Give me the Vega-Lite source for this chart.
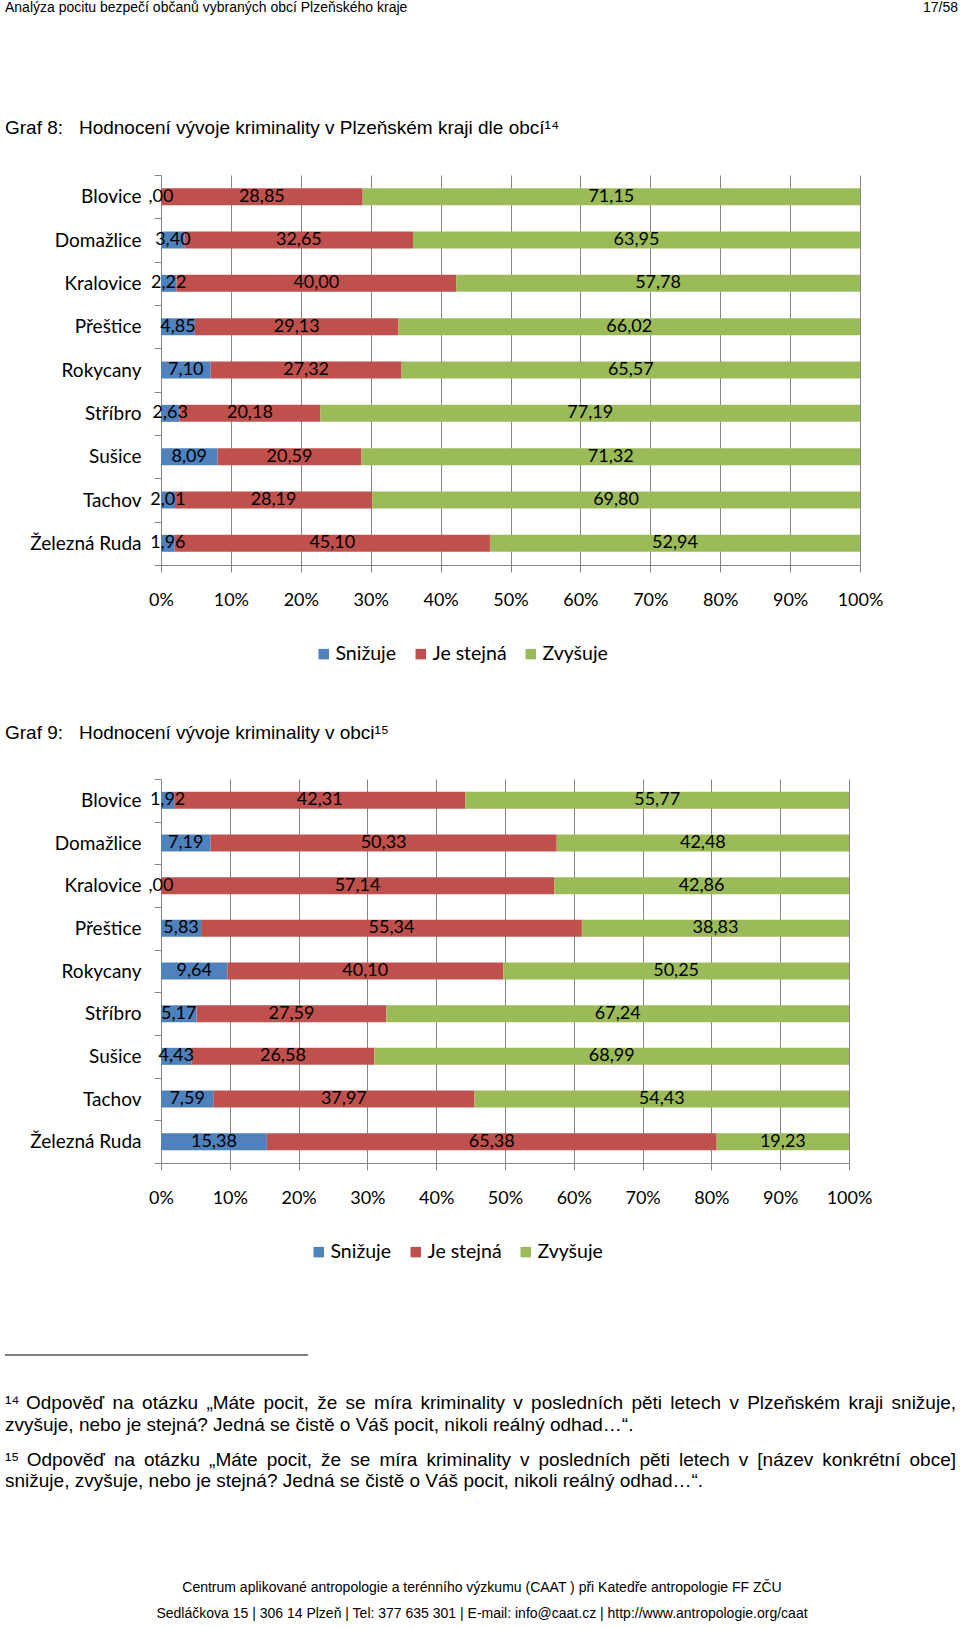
{
  "$schema": "https://vega.github.io/schema/vega-lite/v6.json",
  "padding": {"left": 4, "top": 0, "right": 0, "bottom": 0},
  "autosize": {"type": "pad"},
  "background": "white",
  "config": {
    "view": {"stroke": null},
    "text": {"font": "Liberation Sans", "color": "#000000", "baseline": "middle", "fontSize": 19, "align": "left"},
    "axisX": {"grid": true, "gridColor": "#868686", "gridWidth": 1, "domainColor": "#868686", "domainWidth": 1, "tickColor": "#868686", "tickWidth": 1, "tickSize": 7, "labelFont": "Lato", "labelFontSize": 18, "labelColor": "#000000", "labelPadding": 28, "labelBaseline": "middle", "labelFlush": false, "labelOverlap": false},
    "axisY": {"grid": false, "domainColor": "#868686", "domainWidth": 1, "tickColor": "#868686", "tickWidth": 1, "tickSize": 7, "labelFont": "Lato", "labelFontSize": 19, "labelColor": "#000000", "labelPadding": 13},
    "legend": {"orient": "none", "direction": "horizontal", "symbolType": "square", "symbolSize": 110, "symbolStrokeWidth": 0, "labelFont": "Lato", "labelFontSize": 19.5, "labelColor": "#000000", "labelOffset": 2, "columnPadding": 14, "padding": 0}
  },
  "datasets": {
    "graf8": [
      {"obec": "Blovice", "odpoved": "Snižuje", "pct": 0.00},
      {"obec": "Blovice", "odpoved": "Je stejná", "pct": 28.85},
      {"obec": "Blovice", "odpoved": "Zvyšuje", "pct": 71.15},
      {"obec": "Domažlice", "odpoved": "Snižuje", "pct": 3.40},
      {"obec": "Domažlice", "odpoved": "Je stejná", "pct": 32.65},
      {"obec": "Domažlice", "odpoved": "Zvyšuje", "pct": 63.95},
      {"obec": "Kralovice", "odpoved": "Snižuje", "pct": 2.22},
      {"obec": "Kralovice", "odpoved": "Je stejná", "pct": 40.00},
      {"obec": "Kralovice", "odpoved": "Zvyšuje", "pct": 57.78},
      {"obec": "Přeštice", "odpoved": "Snižuje", "pct": 4.85},
      {"obec": "Přeštice", "odpoved": "Je stejná", "pct": 29.13},
      {"obec": "Přeštice", "odpoved": "Zvyšuje", "pct": 66.02},
      {"obec": "Rokycany", "odpoved": "Snižuje", "pct": 7.10},
      {"obec": "Rokycany", "odpoved": "Je stejná", "pct": 27.32},
      {"obec": "Rokycany", "odpoved": "Zvyšuje", "pct": 65.57},
      {"obec": "Stříbro", "odpoved": "Snižuje", "pct": 2.63},
      {"obec": "Stříbro", "odpoved": "Je stejná", "pct": 20.18},
      {"obec": "Stříbro", "odpoved": "Zvyšuje", "pct": 77.19},
      {"obec": "Sušice", "odpoved": "Snižuje", "pct": 8.09},
      {"obec": "Sušice", "odpoved": "Je stejná", "pct": 20.59},
      {"obec": "Sušice", "odpoved": "Zvyšuje", "pct": 71.32},
      {"obec": "Tachov", "odpoved": "Snižuje", "pct": 2.01},
      {"obec": "Tachov", "odpoved": "Je stejná", "pct": 28.19},
      {"obec": "Tachov", "odpoved": "Zvyšuje", "pct": 69.80},
      {"obec": "Železná Ruda", "odpoved": "Snižuje", "pct": 1.96},
      {"obec": "Železná Ruda", "odpoved": "Je stejná", "pct": 45.10},
      {"obec": "Železná Ruda", "odpoved": "Zvyšuje", "pct": 52.94}
    ],
    "graf9": [
      {"obec": "Blovice", "odpoved": "Snižuje", "pct": 1.92},
      {"obec": "Blovice", "odpoved": "Je stejná", "pct": 42.31},
      {"obec": "Blovice", "odpoved": "Zvyšuje", "pct": 55.77},
      {"obec": "Domažlice", "odpoved": "Snižuje", "pct": 7.19},
      {"obec": "Domažlice", "odpoved": "Je stejná", "pct": 50.33},
      {"obec": "Domažlice", "odpoved": "Zvyšuje", "pct": 42.48},
      {"obec": "Kralovice", "odpoved": "Snižuje", "pct": 0.00},
      {"obec": "Kralovice", "odpoved": "Je stejná", "pct": 57.14},
      {"obec": "Kralovice", "odpoved": "Zvyšuje", "pct": 42.86},
      {"obec": "Přeštice", "odpoved": "Snižuje", "pct": 5.83},
      {"obec": "Přeštice", "odpoved": "Je stejná", "pct": 55.34},
      {"obec": "Přeštice", "odpoved": "Zvyšuje", "pct": 38.83},
      {"obec": "Rokycany", "odpoved": "Snižuje", "pct": 9.64},
      {"obec": "Rokycany", "odpoved": "Je stejná", "pct": 40.10},
      {"obec": "Rokycany", "odpoved": "Zvyšuje", "pct": 50.25},
      {"obec": "Stříbro", "odpoved": "Snižuje", "pct": 5.17},
      {"obec": "Stříbro", "odpoved": "Je stejná", "pct": 27.59},
      {"obec": "Stříbro", "odpoved": "Zvyšuje", "pct": 67.24},
      {"obec": "Sušice", "odpoved": "Snižuje", "pct": 4.43},
      {"obec": "Sušice", "odpoved": "Je stejná", "pct": 26.58},
      {"obec": "Sušice", "odpoved": "Zvyšuje", "pct": 68.99},
      {"obec": "Tachov", "odpoved": "Snižuje", "pct": 7.59},
      {"obec": "Tachov", "odpoved": "Je stejná", "pct": 37.97},
      {"obec": "Tachov", "odpoved": "Zvyšuje", "pct": 54.43},
      {"obec": "Železná Ruda", "odpoved": "Snižuje", "pct": 15.38},
      {"obec": "Železná Ruda", "odpoved": "Je stejná", "pct": 65.38},
      {"obec": "Železná Ruda", "odpoved": "Zvyšuje", "pct": 19.23}
    ]
  },
  "columns": 1,
  "spacing": 0,
  "bounds": "flush",
  "resolve": {"scale": {"color": "independent", "x": "independent", "y": "independent"}, "legend": {"color": "independent"}},
  "concat": [
    {
      "width": 797,
      "height": 175,
      "layer": [
        {"data": {"values": [{"text": "Analýza pocitu bezpečí občanů vybraných obcí Plzeňského kraje"}]}, "mark": {"type": "text", "x": -156, "y": 8, "fontSize": 14}, "encoding": {"text": {"field": "text"}}},
        {"data": {"values": [{"text": "17/58"}]}, "mark": {"type": "text", "x": "width", "y": 8, "align": "right", "fontSize": 14}, "encoding": {"text": {"field": "text"}}},
        {"data": {"values": [{"text": "Graf 8:\u00a0\u00a0\u00a0Hodnocení vývoje kriminality v Plzeňském kraji dle obcí¹⁴"}]}, "mark": {"type": "text", "x": -156, "y": 128}, "encoding": {"text": {"field": "text"}}}
      ]
    },
    {
      "width": 699,
      "height": 390,
      "data": {"name": "graf8"},
      "transform": [
        {"calculate": "indexof(['Snižuje','Je stejná','Zvyšuje'], datum.odpoved)", "as": "poradi"},
        {"stack": "pct", "groupby": ["obec"], "sort": [{"field": "poradi", "order": "ascending"}], "offset": "normalize", "as": ["x0", "x1"]},
        {"calculate": "(datum.x0 + datum.x1) / 2", "as": "xm"},
        {"calculate": "datum.pct == 0 ? ',00' : replace(format(datum.pct, '.2f'), '.', ',')", "as": "popisek"}
      ],
      "encoding": {
        "y": {"field": "obec", "type": "nominal", "sort": ["Blovice", "Domažlice", "Kralovice", "Přeštice", "Rokycany", "Stříbro", "Sušice", "Tachov", "Železná Ruda"], "scale": {"paddingInner": 0, "paddingOuter": 0}, "axis": {"title": null, "tickBand": "extent"}}
      },
      "layer": [
        {
          "mark": {"type": "bar", "size": 17},
          "encoding": {
            "x": {"field": "x0", "type": "quantitative", "scale": {"domain": [0, 1], "nice": false}, "axis": {"title": null, "values": [0, 0.1, 0.2, 0.3, 0.4, 0.5, 0.6, 0.7, 0.8, 0.9, 1], "format": ".0%"}},
            "x2": {"field": "x1"},
            "color": {"field": "odpoved", "type": "nominal", "scale": {"domain": ["Snižuje", "Je stejná", "Zvyšuje"], "range": ["#4F81BD", "#C0504D", "#9BBB59"]}, "legend": {"title": null, "legendX": 153, "legendY": 469}}
          }
        },
        {
          "mark": {"type": "text", "font": "Lato", "fontSize": 18, "align": "center"},
          "encoding": {
            "x": {"field": "xm", "type": "quantitative", "scale": {"domain": [0, 1], "nice": false}, "axis": {"title": null, "values": [0, 0.1, 0.2, 0.3, 0.4, 0.5, 0.6, 0.7, 0.8, 0.9, 1], "format": ".0%"}},
            "text": {"field": "popisek"}
          }
        }
      ]
    },
    {
      "width": 699,
      "height": 214,
      "layer": [
        {"data": {"values": [{"text": "Graf 9:\u00a0\u00a0\u00a0Hodnocení vývoje kriminality v obci¹⁵"}]}, "mark": {"type": "text", "x": -156, "y": 168}, "encoding": {"text": {"field": "text"}}}
      ]
    },
    {
      "width": 688,
      "height": 384,
      "data": {"name": "graf9"},
      "transform": [
        {"calculate": "indexof(['Snižuje','Je stejná','Zvyšuje'], datum.odpoved)", "as": "poradi"},
        {"stack": "pct", "groupby": ["obec"], "sort": [{"field": "poradi", "order": "ascending"}], "offset": "normalize", "as": ["x0", "x1"]},
        {"calculate": "(datum.x0 + datum.x1) / 2", "as": "xm"},
        {"calculate": "datum.pct == 0 ? ',00' : replace(format(datum.pct, '.2f'), '.', ',')", "as": "popisek"}
      ],
      "encoding": {
        "y": {"field": "obec", "type": "nominal", "sort": ["Blovice", "Domažlice", "Kralovice", "Přeštice", "Rokycany", "Stříbro", "Sušice", "Tachov", "Železná Ruda"], "scale": {"paddingInner": 0, "paddingOuter": 0}, "axis": {"title": null, "tickBand": "extent"}}
      },
      "layer": [
        {
          "mark": {"type": "bar", "size": 17},
          "encoding": {
            "x": {"field": "x0", "type": "quantitative", "scale": {"domain": [0, 1], "nice": false}, "axis": {"title": null, "values": [0, 0.1, 0.2, 0.3, 0.4, 0.5, 0.6, 0.7, 0.8, 0.9, 1], "format": ".0%"}},
            "x2": {"field": "x1"},
            "color": {"field": "odpoved", "type": "nominal", "scale": {"domain": ["Snižuje", "Je stejná", "Zvyšuje"], "range": ["#4F81BD", "#C0504D", "#9BBB59"]}, "legend": {"title": null, "legendX": 148, "legendY": 463}}
          }
        },
        {
          "mark": {"type": "text", "font": "Lato", "fontSize": 18, "align": "center"},
          "encoding": {
            "x": {"field": "xm", "type": "quantitative", "scale": {"domain": [0, 1], "nice": false}, "axis": {"title": null, "values": [0, 0.1, 0.2, 0.3, 0.4, 0.5, 0.6, 0.7, 0.8, 0.9, 1], "format": ".0%"}},
            "text": {"field": "popisek"}
          }
        }
      ]
    },
    {
      "width": 797,
      "height": 465,
      "layer": [
        {"data": {"values": [{"popis": "oddělovač poznámek"}]}, "mark": {"type": "rule", "color": "#000000", "strokeWidth": 1}, "encoding": {"x": {"value": -156}, "x2": {"value": 147}, "y": {"value": 192}}},
        {"data": {"values": [{"text": "¹⁴"}]}, "mark": {"type": "text", "x": -156, "y": 240}, "encoding": {"text": {"field": "text"}}},
        {"data": {"values": [{"text": "Odpověď"}]}, "mark": {"type": "text", "x": -135, "y": 240}, "encoding": {"text": {"field": "text"}}},
        {"data": {"values": [{"text": "na"}]}, "mark": {"type": "text", "x": -48.4, "y": 240}, "encoding": {"text": {"field": "text"}}},
        {"data": {"values": [{"text": "otázku"}]}, "mark": {"type": "text", "x": -18.9, "y": 240}, "encoding": {"text": {"field": "text"}}},
        {"data": {"values": [{"text": "„Máte"}]}, "mark": {"type": "text", "x": 45.4, "y": 240}, "encoding": {"text": {"field": "text"}}},
        {"data": {"values": [{"text": "pocit,"}]}, "mark": {"type": "text", "x": 102.4, "y": 240}, "encoding": {"text": {"field": "text"}}},
        {"data": {"values": [{"text": "že"}]}, "mark": {"type": "text", "x": 156.2, "y": 240}, "encoding": {"text": {"field": "text"}}},
        {"data": {"values": [{"text": "se"}]}, "mark": {"type": "text", "x": 184.6, "y": 240}, "encoding": {"text": {"field": "text"}}},
        {"data": {"values": [{"text": "míra"}]}, "mark": {"type": "text", "x": 213.1, "y": 240}, "encoding": {"text": {"field": "text"}}},
        {"data": {"values": [{"text": "kriminality"}]}, "mark": {"type": "text", "x": 259.5, "y": 240}, "encoding": {"text": {"field": "text"}}},
        {"data": {"values": [{"text": "v"}]}, "mark": {"type": "text", "x": 352.2, "y": 240}, "encoding": {"text": {"field": "text"}}},
        {"data": {"values": [{"text": "posledních"}]}, "mark": {"type": "text", "x": 370.1, "y": 240}, "encoding": {"text": {"field": "text"}}},
        {"data": {"values": [{"text": "pěti"}]}, "mark": {"type": "text", "x": 470.4, "y": 240}, "encoding": {"text": {"field": "text"}}},
        {"data": {"values": [{"text": "letech"}]}, "mark": {"type": "text", "x": 509.3, "y": 240}, "encoding": {"text": {"field": "text"}}},
        {"data": {"values": [{"text": "v"}]}, "mark": {"type": "text", "x": 568.4, "y": 240}, "encoding": {"text": {"field": "text"}}},
        {"data": {"values": [{"text": "Plzeňském"}]}, "mark": {"type": "text", "x": 586.2, "y": 240}, "encoding": {"text": {"field": "text"}}},
        {"data": {"values": [{"text": "kraji"}]}, "mark": {"type": "text", "x": 687.5, "y": 240}, "encoding": {"text": {"field": "text"}}},
        {"data": {"values": [{"text": "snižuje,"}]}, "mark": {"type": "text", "x": 795, "y": 240, "align": "right"}, "encoding": {"text": {"field": "text"}}},
        {"data": {"values": [{"text": "zvyšuje, nebo je stejná? Jedná se čistě o Váš pocit, nikoli reálný odhad…“."}]}, "mark": {"type": "text", "x": -156, "y": 262}, "encoding": {"text": {"field": "text"}}},
        {"data": {"values": [{"text": "¹⁵"}]}, "mark": {"type": "text", "x": -156, "y": 297}, "encoding": {"text": {"field": "text"}}},
        {"data": {"values": [{"text": "Odpověď"}]}, "mark": {"type": "text", "x": -134.3, "y": 297}, "encoding": {"text": {"field": "text"}}},
        {"data": {"values": [{"text": "na"}]}, "mark": {"type": "text", "x": -47.1, "y": 297}, "encoding": {"text": {"field": "text"}}},
        {"data": {"values": [{"text": "otázku"}]}, "mark": {"type": "text", "x": -17.0, "y": 297}, "encoding": {"text": {"field": "text"}}},
        {"data": {"values": [{"text": "„Máte"}]}, "mark": {"type": "text", "x": 48.1, "y": 297}, "encoding": {"text": {"field": "text"}}},
        {"data": {"values": [{"text": "pocit,"}]}, "mark": {"type": "text", "x": 105.7, "y": 297}, "encoding": {"text": {"field": "text"}}},
        {"data": {"values": [{"text": "že"}]}, "mark": {"type": "text", "x": 160.1, "y": 297}, "encoding": {"text": {"field": "text"}}},
        {"data": {"values": [{"text": "se"}]}, "mark": {"type": "text", "x": 189.3, "y": 297}, "encoding": {"text": {"field": "text"}}},
        {"data": {"values": [{"text": "míra"}]}, "mark": {"type": "text", "x": 218.4, "y": 297}, "encoding": {"text": {"field": "text"}}},
        {"data": {"values": [{"text": "kriminality"}]}, "mark": {"type": "text", "x": 265.5, "y": 297}, "encoding": {"text": {"field": "text"}}},
        {"data": {"values": [{"text": "v"}]}, "mark": {"type": "text", "x": 358.9, "y": 297}, "encoding": {"text": {"field": "text"}}},
        {"data": {"values": [{"text": "posledních"}]}, "mark": {"type": "text", "x": 377.4, "y": 297}, "encoding": {"text": {"field": "text"}}},
        {"data": {"values": [{"text": "pěti"}]}, "mark": {"type": "text", "x": 478.4, "y": 297}, "encoding": {"text": {"field": "text"}}},
        {"data": {"values": [{"text": "letech"}]}, "mark": {"type": "text", "x": 518.0, "y": 297}, "encoding": {"text": {"field": "text"}}},
        {"data": {"values": [{"text": "v"}]}, "mark": {"type": "text", "x": 577.8, "y": 297}, "encoding": {"text": {"field": "text"}}},
        {"data": {"values": [{"text": "[název"}]}, "mark": {"type": "text", "x": 596.3, "y": 297}, "encoding": {"text": {"field": "text"}}},
        {"data": {"values": [{"text": "konkrétní"}]}, "mark": {"type": "text", "x": 661.3, "y": 297}, "encoding": {"text": {"field": "text"}}},
        {"data": {"values": [{"text": "obce]"}]}, "mark": {"type": "text", "x": 795, "y": 297, "align": "right"}, "encoding": {"text": {"field": "text"}}},
        {"data": {"values": [{"text": "snižuje, zvyšuje, nebo je stejná? Jedná se čistě o Váš pocit, nikoli reálný odhad…“."}]}, "mark": {"type": "text", "x": -156, "y": 318}, "encoding": {"text": {"field": "text"}}},
        {"data": {"values": [{"text": "Centrum aplikované antropologie a terénního výzkumu (CAAT ) při Katedře antropologie FF ZČU"}]}, "mark": {"type": "text", "x": 321, "y": 425, "align": "center", "fontSize": 14}, "encoding": {"text": {"field": "text"}}},
        {"data": {"values": [{"text": "Sedláčkova 15 | 306 14 Plzeň | Tel: 377 635 301 | E-mail: info@caat.cz | http://www.antropologie.org/caat"}]}, "mark": {"type": "text", "x": 321, "y": 451, "align": "center", "fontSize": 14}, "encoding": {"text": {"field": "text"}}}
      ]
    }
  ]
}
